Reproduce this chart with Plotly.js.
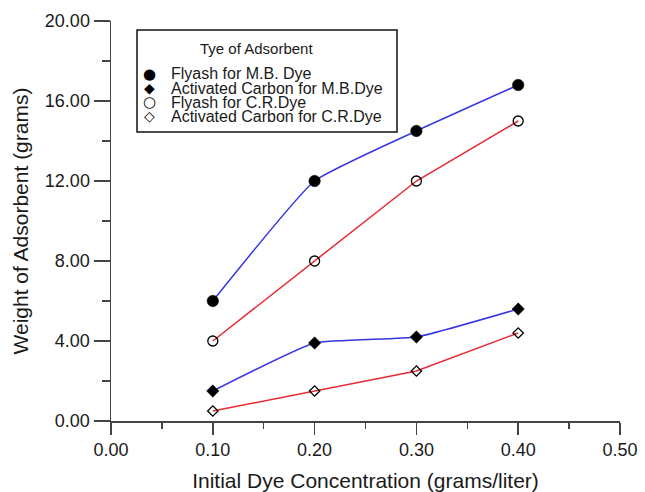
<!DOCTYPE html>
<html>
<head>
<meta charset="utf-8">
<script src="https://cdn.plot.ly/plotly-3.0.1.min.js"></script>
<style>html,body{margin:0;padding:0;background:#fff;}#chart{width:645px;height:492px;}</style>
</head>
<body>
<div id="chart"></div>
<script>
// Data
const concentration = [0.10, 0.20, 0.30, 0.40];
const flyashMB = [6.0, 12.0, 14.5, 16.8];
const carbonMB = [1.5, 3.9, 4.2, 5.6];
const flyashCR = [4.0, 8.0, 12.0, 15.0];
const carbonCR = [0.5, 1.5, 2.5, 4.4];
const seriesNames = [
  "Flyash for M.B. Dye",
  "Activated Carbon for M.B.Dye",
  "Flyash for C.R.Dye",
  "Activated Carbon for C.R.Dye"
];
const legendGlyphs = ["\u25CF", "\u25C6", "\u25CB", "\u25C7"];
const legendTitle = "Tye of Adsorbent";
const xTickVals = [0, 0.1, 0.2, 0.3, 0.4, 0.5];
const xTickText = ["0.00", "0.10", "0.20", "0.30", "0.40", "0.50"];
const yTickVals = [0, 4, 8, 12, 16, 20];
const yTickText = ["0.00", "4.00", "8.00", "12.00", "16.00", "20.00"];

const BLUE = "#3636e0";
const RED = "#e62a32";
const FONT = "Liberation Sans, Arial, Helvetica, sans-serif";
const INK = "#1a1a1a";

const series = [
  {y: flyashMB, color: BLUE, shape: "spline", symbol: "circle", size: 11.5, lw: 0.5},
  {y: carbonMB, color: BLUE, shape: "spline", symbol: "diamond", size: 9.5, lw: 0.5},
  {y: flyashCR, color: RED, shape: "linear", symbol: "circle-open", size: 10, lw: 1.3},
  {y: carbonCR, color: RED, shape: "linear", symbol: "diamond-open", size: 8, lw: 1.3}
];

const traces = [];
series.forEach((s) => {
  traces.push({
    x: concentration, y: s.y, type: "scatter", mode: "lines",
    line: {color: s.color, width: 1.5, shape: s.shape, smoothing: 0.4},
    showlegend: false, hoverinfo: "skip"
  });
});
series.forEach((s, i) => {
  traces.push({
    x: concentration, y: s.y, type: "scatter", mode: "markers", name: seriesNames[i],
    marker: {symbol: s.symbol, size: s.size, color: "#000", line: {color: "#000", width: s.lw}},
    showlegend: false
  });
});

// Hand-built legend box (compact rows like the reference)
const annotations = [];
annotations.push({
  xref: "paper", yref: "paper", x: 0.286, y: 0.93, xanchor: "center", yanchor: "middle",
  text: legendTitle, showarrow: false, font: {family: FONT, size: 15, color: INK}
});
const rowY = [0.8675, 0.8325, 0.7975, 0.7615];
seriesNames.forEach((name, i) => {
  annotations.push({
    xref: "paper", yref: "paper", x: 0.0766, y: rowY[i], xanchor: "center", yanchor: "middle",
    text: legendGlyphs[i], showarrow: false,
    font: {family: "DejaVu Sans, sans-serif", size: i % 2 === 0 ? 15 : 14, color: "#000"}
  });
  annotations.push({
    xref: "paper", yref: "paper", x: 0.114, y: rowY[i], xanchor: "left", yanchor: "middle",
    text: name, showarrow: false, font: {family: FONT, size: 16, color: INK}
  });
});

const layout = {
  width: 645, height: 492,
  margin: {l: 111, r: 25, t: 21, b: 71},
  paper_bgcolor: "#fff", plot_bgcolor: "#fff",
  font: {family: FONT, color: INK, size: 18},
  showlegend: false,
  shapes: [{
    type: "rect", xref: "paper", yref: "paper",
    x0: 0.0511, x1: 0.5619, y0: 0.7225, y1: 0.9775,
    line: {color: "#111", width: 1.5}, fillcolor: "rgba(255,255,255,0)", layer: "above"
  }],
  annotations: annotations,
  xaxis: {
    range: [0, 0.5], showgrid: false, zeroline: false,
    showline: true, linecolor: "#444", linewidth: 1.5,
    ticks: "outside", ticklen: 12, tickwidth: 1.5, tickcolor: "#444",
    tickvals: xTickVals, ticktext: xTickText,
    tickfont: {family: FONT, size: 18, color: INK},
    minor: {dtick: 0.05, ticks: "outside", ticklen: 6, tickwidth: 1.5, tickcolor: "#444", showgrid: false},
    title: {text: "Initial Dye Concentration (grams/liter)", font: {family: FONT, size: 21, color: INK}, standoff: 14}
  },
  yaxis: {
    range: [0, 20], showgrid: false, zeroline: false,
    showline: true, linecolor: "#444", linewidth: 1.5,
    ticks: "outside", ticklen: 16, tickwidth: 1.5, tickcolor: "#444",
    tickvals: yTickVals, ticktext: yTickText,
    ticklabelstandoff: 0,
    tickfont: {family: FONT, size: 18, color: INK},
    minor: {dtick: 2, ticks: "outside", ticklen: 8, tickwidth: 1.5, tickcolor: "#444", showgrid: false},
    title: {text: "Weight of Adsorbent (grams)", font: {family: FONT, size: 21, color: INK}, standoff: 10}
  }
};

Plotly.newPlot("chart", traces, layout, {displayModeBar: false, staticPlot: true});
</script>
</body>
</html>
